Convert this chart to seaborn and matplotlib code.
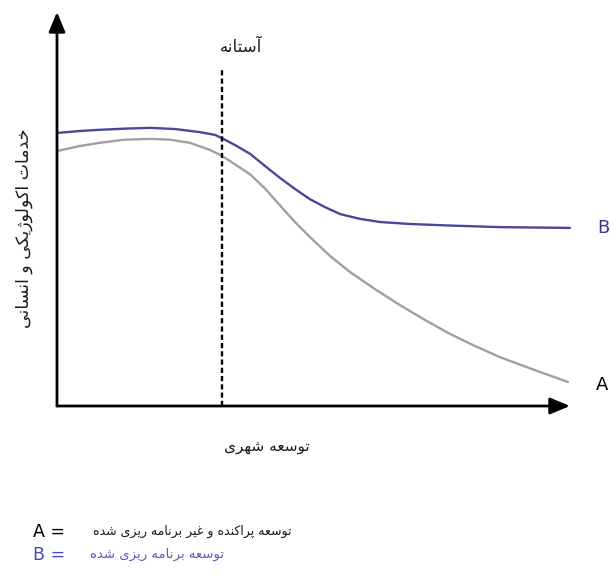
import numpy as np
import pandas as pd
import matplotlib
matplotlib.use("Agg")
import matplotlib.pyplot as plt
import seaborn as sns

# Urban development (x) vs. ecological and human services (y), arbitrary units
dev_a = [0.0, 4.5, 8.3, 13.2, 18.1, 21.9, 25.8, 29.7, 32.0, 34.6, 37.5, 40.4,
         43.3, 46.2, 49.1, 53.0, 56.9, 61.7, 66.6, 71.5, 76.3, 81.2, 86.0,
         92.8, 99.2]
svc_a = [64.7, 66.0, 66.8, 67.6, 67.8, 67.6, 66.8, 65.0, 63.5, 61.3, 58.8, 55.2,
         50.9, 46.7, 42.9, 38.1, 34.0, 29.7, 25.6, 21.8, 18.3, 15.2, 12.4,
         9.1, 6.1]

dev_b = [0.0, 4.5, 8.3, 13.2, 18.1, 22.9, 27.8, 30.7, 32.0, 34.6, 37.5, 40.4,
         43.3, 46.2, 49.1, 52.0, 55.0, 58.8, 62.7, 68.5, 76.3, 86.0, 99.6]
svc_b = [69.3, 69.8, 70.1, 70.4, 70.6, 70.3, 69.5, 68.8, 68.0, 66.2, 64.0, 60.9,
         57.9, 55.1, 52.5, 50.5, 48.7, 47.5, 46.7, 46.2, 45.8, 45.4, 45.2]

threshold_x = 32.0
threshold_top = 85.3

series_names = ["A", "B"]
series_colors = {"A": "#a0a0a0", "B": "#48489a"}

title_threshold = "آستانه"
y_title = "خدمات اکولوژیکی و انسانی"
x_title = "توسعه شهری"
legend_a = "توسعه پراکنده و غیر برنامه ریزی شده"
legend_b = "توسعه برنامه ریزی شده"

# Contextual forms for Persian letters: isolated, final, initial, medial
FORMS = {
    "ا": ("\uFE8D", "\uFE8E", None, None),
    "آ": ("\uFE81", "\uFE82", None, None),
    "ب": ("\uFE8F", "\uFE90", "\uFE91", "\uFE92"),
    "پ": ("\uFB56", "\uFB57", "\uFB58", "\uFB59"),
    "ت": ("\uFE95", "\uFE96", "\uFE97", "\uFE98"),
    "خ": ("\uFEA5", "\uFEA6", "\uFEA7", "\uFEA8"),
    "د": ("\uFEA9", "\uFEAA", None, None),
    "ر": ("\uFEAD", "\uFEAE", None, None),
    "ز": ("\uFEAF", "\uFEB0", None, None),
    "ژ": ("\uFB8A", "\uFB8B", None, None),
    "س": ("\uFEB1", "\uFEB2", "\uFEB3", "\uFEB4"),
    "ش": ("\uFEB5", "\uFEB6", "\uFEB7", "\uFEB8"),
    "ع": ("\uFEC9", "\uFECA", "\uFECB", "\uFECC"),
    "غ": ("\uFECD", "\uFECE", "\uFECF", "\uFED0"),
    "ک": ("\uFB8E", "\uFB8F", "\uFB90", "\uFB91"),
    "ل": ("\uFEDD", "\uFEDE", "\uFEDF", "\uFEE0"),
    "م": ("\uFEE1", "\uFEE2", "\uFEE3", "\uFEE4"),
    "ن": ("\uFEE5", "\uFEE6", "\uFEE7", "\uFEE8"),
    "ه": ("\uFEE9", "\uFEEA", "\uFEEB", "\uFEEC"),
    "و": ("\uFEED", "\uFEEE", None, None),
    "ی": ("\uFBFC", "\uFBFD", "\uFBFE", "\uFBFF"),
}


def shape_rtl(text):
    """Pick joined letter forms and reverse to visual order."""
    out = []
    n = len(text)
    for i, ch in enumerate(text):
        if ch not in FORMS:
            out.append(ch)
            continue
        prev = text[i - 1] if i > 0 else None
        nxt = text[i + 1] if i < n - 1 else None
        joins_prev = prev in FORMS and FORMS[prev][2] is not None
        joins_next = FORMS[ch][2] is not None and nxt in FORMS
        iso, fin, ini, med = FORMS[ch]
        if joins_prev and joins_next:
            out.append(med)
        elif joins_prev:
            out.append(fin)
        elif joins_next:
            out.append(ini)
        else:
            out.append(iso)
    return "".join(reversed(out))


df = pd.concat([
    pd.DataFrame({"dev": dev_a, "svc": svc_a, "series": "A"}),
    pd.DataFrame({"dev": dev_b, "svc": svc_b, "series": "B"}),
], ignore_index=True)

sns.set_style("white")
plt.rcParams["font.family"] = ["DejaVu Sans"]

W, H = 613, 577
fig = plt.figure(figsize=(W / 100, H / 100), dpi=100)
ax = fig.add_axes([57 / W, 1 - 406 / H, 515 / W, (406 - 12) / H])

sns.lineplot(data=df, x="dev", y="svc", hue="series", palette=series_colors,
             hue_order=series_names, linewidth=1.7, legend=False, ax=ax,
             sort=False)
for ln in ax.lines:
    ln.set_solid_joinstyle("round")
    ln.set_solid_capstyle("round")

ax.set_xlim(0, 100)
ax.set_ylim(0, 100)
ax.set_xticks([])
ax.set_yticks([])
ax.set_xlabel("")
ax.set_ylabel("")
for s in ax.spines.values():
    s.set_visible(False)

# Axes drawn as arrows
arrow = dict(arrowstyle="-|>,head_length=0.6,head_width=0.25", lw=2.0,
             color="black", shrinkA=0, shrinkB=0, mutation_scale=20)
ax.annotate("", xy=(0, 1), xytext=(0, 0), xycoords="axes fraction",
            textcoords="axes fraction", arrowprops=arrow)
ax.annotate("", xy=(0.996, 0), xytext=(0, 0), xycoords="axes fraction",
            textcoords="axes fraction", arrowprops=arrow)

# Threshold line
ax.plot([threshold_x, threshold_x], [0, threshold_top], color="black",
        lw=1.7, ls=(0, (2.2, 1.3)))

# Curve end labels
ax.annotate("B", xy=(dev_b[-1], svc_b[-1]), xytext=(20, 0),
            textcoords="offset points", ha="left", va="center",
            fontsize=13, color="#3a3a90")
ax.annotate("A", xy=(dev_a[-1], svc_a[-1]), xytext=(20, -2),
            textcoords="offset points", ha="left", va="center",
            fontsize=13, color="black")

fig.text(241 / W, 1 - 47 / H, shape_rtl(title_threshold), ha="center",
         va="center", fontsize=12, color="#1a1a1a")
fig.text(24 / W, 1 - 228 / H, shape_rtl(y_title), ha="center", va="center",
         rotation=90, fontsize=12.5, color="#1a1a1a")
fig.text(267 / W, 1 - 446 / H, shape_rtl(x_title), ha="center", va="center",
         fontsize=11, color="#1a1a1a")

fig.text(33 / W, 1 - 532 / H, "A =", ha="left", va="center", fontsize=12.5,
         color="black")
fig.text(33 / W, 1 - 555 / H, "B =", ha="left", va="center", fontsize=12.5,
         color="#4a4ab8")
fig.text(93 / W, 1 - 531 / H, shape_rtl(legend_a), ha="left", va="center",
         fontsize=9, color="#1a1a1a")
fig.text(90 / W, 1 - 554 / H, shape_rtl(legend_b), ha="left", va="center",
         fontsize=9.5, color="#5a5ac0")

fig.savefig("out.png", dpi=100, facecolor="white")
